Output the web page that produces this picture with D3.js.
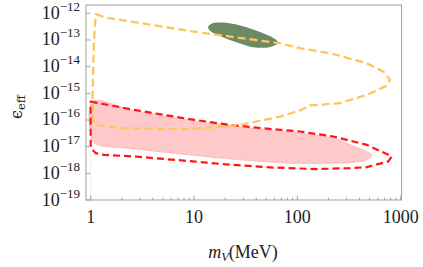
<!DOCTYPE html>
<html>
<head>
<meta charset="utf-8">
<script src="https://cdn.jsdelivr.net/npm/d3@7"></script>
<style>
  body { margin: 0; background: #fff; }
  svg { display: block; }
</style>
</head>
<body>
<svg width="423" height="267"></svg>
<script>
// ---- data: [m_V (MeV), eps_eff] ----
var orangeContour = [
  [1.12, 9.4e-13], [1.37, 7.0e-13], [10.0, 2.05e-13], [68, 7.5e-14], [106, 4.9e-14],
  [207, 3.2e-14], [470, 1.34e-14], [681, 6.5e-15], [789, 3.2e-15], [722, 1.9e-15],
  [470, 8.7e-16], [259, 4.3e-16], [133, 3.5e-16], [110, 2.4e-16], [68, 1.34e-16],
  [27.9, 6.5e-17], [14.3, 5.2e-17], [9.1, 4.5e-17], [2.1, 4.9e-17], [1.35, 5.7e-17],
  [1.125, 6.8e-17], [1.06, 8.7e-17], [1.04, 5.7e-16], [1.076, 1e-13]
];
var redContour = [
  [1.0, 4.9e-16], [1.12, 4.5e-16], [2.62, 2.4e-16], [9.1, 1.07e-16], [22.3, 6.5e-17],
  [58.6, 4.5e-17], [106, 3.7e-17], [223, 2.4e-17], [470, 1.17e-17], [820, 4.3e-18],
  [760, 2.8e-18], [470, 1.7e-18], [324, 1.57e-18], [154, 1.44e-18], [58.6, 1.65e-18],
  [19.2, 2.2e-18], [9.8, 2.8e-18], [2.62, 4.3e-18], [1.35, 4.9e-18], [1.12, 5.7e-18],
  [1.0, 8.8e-18]
];
var pinkRegion = [
  [1.04, 4.9e-16], [2.62, 2.25e-16], [9.1, 1.0e-16], [27.9, 5.5e-17], [106, 3.2e-17],
  [223, 2.1e-17], [324, 1.17e-17], [470, 6.5e-18], [525, 4.9e-18], [470, 3.2e-18],
  [324, 2.5e-18], [223, 2.4e-18], [85, 2.4e-18], [27.9, 3.2e-18], [9.1, 4.9e-18],
  [2.26, 8.8e-18], [1.16, 1.17e-17], [1.04, 1.8e-17]
];
var greenRegion = [
  [13.7, 3.07e-13], [14.9, 4.15e-13], [18.7, 4.5e-13], [27.9, 3.5e-13], [43.5, 2.0e-13],
  [60.8, 1.09e-13], [65, 7.7e-14], [54.4, 5.5e-14], [38.9, 5.2e-14], [27.9, 7.4e-14],
  [17.9, 1.41e-13], [14.3, 2.2e-13]
];
var xTicks = [1, 10, 100, 1000];
var xTickLabels = ["1", "10", "100", "1000"];
var yExponents = [-19, -18, -17, -16, -15, -14, -13, -12];

var svg = d3.select("svg");

var x = d3.scaleLog().domain([1, 1000]).range([90.7, 400.7]);
var y = d3.scaleLog().domain([1e-19, 1e-12]).range([200, 13.3]);

// plot frame limits
var x0 = x(0.9), x1 = x(1020), y0 = y(1e-19), y1 = y(Math.pow(10, -11.69));

var line = d3.line().x(d => x(d[0])).y(d => y(d[1]));

var g = svg.append("g");

// faint guide at m = 1
g.append("line")
  .attr("x1", x(1)).attr("x2", x(1))
  .attr("y1", y(8e-18)).attr("y2", y0)
  .attr("stroke", "#eeeeee").attr("stroke-width", 1);

// pink filled region
g.append("path")
  .attr("d", line.curve(d3.curveCatmullRomClosed.alpha(0.5))(pinkRegion))
  .attr("fill", "#ffc9c9")
  .attr("stroke", "#f8a8a8")
  .attr("stroke-width", 0.6);

// red dashed contour
g.append("path")
  .attr("d", line.curve(d3.curveLinearClosed)(redContour))
  .attr("fill", "none")
  .attr("stroke", "#ff1414")
  .attr("stroke-width", 2.2)
  .attr("stroke-dasharray", "7,4")
  .attr("stroke-linejoin", "round");

// green region
g.append("path")
  .attr("d", line.curve(d3.curveCatmullRomClosed.alpha(0.5))(greenRegion))
  .attr("fill", "#6b8b64");

// orange dashed contour
g.append("path")
  .attr("d", line.curve(d3.curveLinearClosed)(orangeContour))
  .attr("fill", "none")
  .attr("stroke", "#ffc55a")
  .attr("stroke-width", 2.3)
  .attr("stroke-dasharray", "8,4")
  .attr("stroke-linejoin", "round");

// frame
svg.append("rect")
  .attr("x", x0).attr("y", y1)
  .attr("width", x1 - x0).attr("height", y0 - y1)
  .attr("fill", "none")
  .attr("stroke", "#a0a0a0")
  .attr("stroke-width", 1);

// x ticks: majors and minors, pointing inward from the bottom
var minor = [];
[1, 10, 100].forEach(function(dec) {
  for (var k = 2; k <= 9; k++) minor.push(dec * k);
});
svg.append("g").selectAll("line.major")
  .data(xTicks)
  .join("line")
    .attr("x1", d => x(d)).attr("x2", d => x(d))
    .attr("y1", y0).attr("y2", y0 - 4.5)
    .attr("stroke", "#a0a0a0");
svg.append("g").selectAll("line.minor")
  .data(minor)
  .join("line")
    .attr("x1", d => x(d)).attr("x2", d => x(d))
    .attr("y1", y0).attr("y2", y0 - 2.5)
    .attr("stroke", "#a0a0a0");

// y ticks
svg.append("g").selectAll("line")
  .data(yExponents)
  .join("line")
    .attr("x1", x0).attr("x2", x0 + 4.5)
    .attr("y1", d => y(Math.pow(10, d))).attr("y2", d => y(Math.pow(10, d)))
    .attr("stroke", "#a0a0a0");

var font = "'Liberation Serif', 'DejaVu Serif', serif";

// x tick labels
svg.append("g").selectAll("text")
  .data(xTicks)
  .join("text")
    .attr("x", d => x(d))
    .attr("y", 223)
    .attr("text-anchor", "middle")
    .attr("font-family", font)
    .attr("font-size", 18)
    .attr("fill", "#222")
    .text((d, i) => xTickLabels[i]);

// y tick labels 10^n
var yl = svg.append("g").selectAll("text")
  .data(yExponents)
  .join("text")
    .attr("x", x0 - 6)
    .attr("y", d => y(Math.pow(10, d)) + 5.5)
    .attr("text-anchor", "end")
    .attr("font-family", font)
    .attr("font-size", 18)
    .attr("fill", "#222");
yl.append("tspan").text("10");
yl.append("tspan")
  .attr("dy", -8)
  .attr("font-size", 13)
  .text(d => "\u2212" + Math.abs(d));

// axis titles
var xt = svg.append("text")
  .attr("x", 243).attr("y", 258)
  .attr("text-anchor", "middle")
  .attr("font-family", font)
  .attr("font-size", 18)
  .attr("fill", "#222");
xt.append("tspan").attr("font-style", "italic").text("m");
xt.append("tspan").attr("font-style", "italic").attr("font-size", 12.5).attr("dy", 3).text("V");
xt.append("tspan").attr("dy", -3).text("(MeV)");

var yt = svg.append("text")
  .attr("transform", "translate(22,107) rotate(-90)")
  .attr("text-anchor", "middle")
  .attr("font-family", "'DejaVu Serif', serif")
  .attr("font-size", 16)
  .attr("fill", "#222");
yt.append("tspan").text("\u03f5");
yt.append("tspan").attr("font-size", 11.5).attr("dy", 3).text("eff");
</script>
</body>
</html>
